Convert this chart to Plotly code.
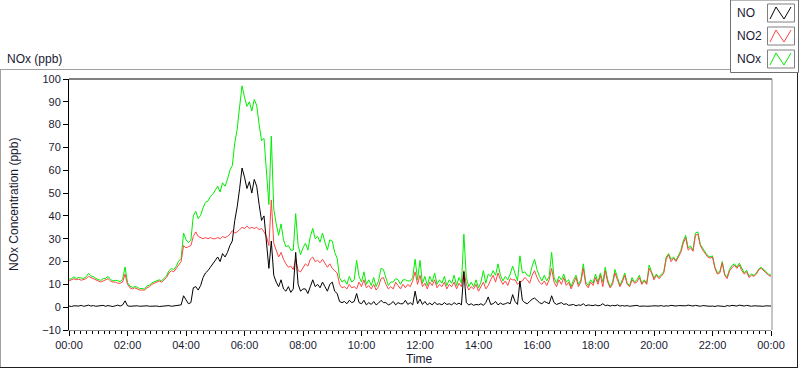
import plotly.graph_objects as go
import pandas as pd

# NO (ppb), 5-minute readings from 00:00 to 24:00
no_ppb = [
    0.5, 0.3, 0.6, 0.4, 0.5, 0.8, 0.4, 0.6, 0.9, 0.5, 0.7, 0.4,
    0.6, 0.5, 0.8, 0.4, 0.7, 0.5, 0.3, 0.6, 0.9, 0.5, 1.0, 2.8,
    0.6, 0.4, 0.5, 0.3, 0.6, 0.4, 0.5, 0.3, 0.6, 0.4, 0.5, 0.4,
    0.5, 0.3, 0.4, 0.6, 0.5, 0.7, 0.4, 0.6, 0.5, 0.8, 1.0, 5.0,
    3.0, 1.5, 2.0, 8.5, 9.0, 7.5, 9.5, 13, 15, 16, 17.5, 19,
    21, 22, 20, 23.5, 22, 24, 27, 29, 38, 44, 52, 61,
    57, 52, 55, 50, 56, 53, 45, 38, 40, 28, 17, 29,
    14, 11, 9, 12, 8, 7, 9, 6.5, 8, 24, 10, 7,
    8, 8, 6, 9, 12, 9, 10, 8.5, 11, 9, 7, 10,
    11, 7, 6, 2.5, 2, 2.5, 1.5, 3, 2, 2.5, 6, 2,
    1.5, 3, 1, 2, 1.2, 2.5, 1, 1.8, 3, 2, 2, 1,
    1.5, 2.5, 1, 2, 1.5, 1.5, 3, 1.2, 2, 1, 7, 1.5,
    3.5, 1.2, 2.5, 1, 1.8, 1, 2.2, 1.2, 1.5, 1, 2, 1.2,
    1.5, 1, 2, 1.2, 1.8, 1, 15.5, 2, 1, 1.5, 0.8, 1.2,
    1, 1.5, 0.8, 2, 4.5, 1.2, 1.5, 2.5, 1, 1.8, 1.2, 1.5,
    2, 1.5, 5.5, 2.5, 1.2, 11.5, 3, 2, 1.5, 2.5, 3.5, 4,
    3, 2, 1.5, 2.5, 2, 1.5, 5, 2, 1.2, 1.5, 2, 1.2,
    1.5, 0.8, 1, 1.2, 0.6, 1, 0.8, 1.5, 0.6, 1, 0.8, 0.7,
    1, 0.6, 0.8, 1.5, 0.7, 0.9, 0.5, 0.8, 0.6, 1, 0.5, 0.7,
    0.5, 0.7, 0.4, 0.6, 0.5, 0.8, 0.4, 0.6, 0.5, 0.4, 0.6, 0.5,
    0.6, 0.4, 0.5, 0.7, 0.4, 0.6, 0.5, 0.8, 0.6, 0.5, 0.7, 0.6,
    0.8, 0.6, 0.9, 0.7, 0.5, 0.8, 0.6, 0.4, 0.7, 0.5, 0.6, 0.4,
    0.5, 0.3, 0.6, 0.4, 0.5, 0.3, 0.7, 0.5, 0.8, 0.6, 0.5, 0.9,
    0.7, 0.5, 0.8, 0.6, 0.4, 0.6, 0.5, 0.3, 0.5, 0.4, 0.6, 0.4,
    0.5,
]

# NO2 (ppb)
no2_ppb = [
    11.5, 12, 12.5, 12, 12.3, 11.8, 12, 12.5, 13.5, 13, 12.5, 12,
    11.5, 11, 11.5, 12, 12.5, 11.5, 11, 11, 10.5, 10.5, 11, 14.5,
    10, 8.5, 8, 8.5, 8, 7.5, 7.5, 7.5, 8.5, 9, 10, 10.5,
    11, 11.5, 11, 12, 13, 15, 16, 15.5, 17, 19, 20, 27,
    26, 26.5, 27, 31, 33, 31, 30.5, 30, 30.5, 30, 30.5, 30,
    30, 30.5, 30, 31, 30.5, 31, 32, 33.5, 32.5, 33, 34, 35,
    34.5, 35.5, 34.5, 35, 34.5, 35, 34, 34.5, 33, 31, 27, 47,
    28, 25, 22, 24, 21, 19, 17.5, 18, 16.5, 21, 16, 15.5,
    17, 19, 18, 21, 22, 20, 20.5, 19.5, 21, 19, 17.5, 19,
    17, 16, 15, 10, 8.5, 9, 8, 10, 8.5, 9, 8, 11,
    9, 12, 8.5, 9.5, 8, 10, 7.5, 9, 12.5, 13, 10, 8,
    9, 8, 11, 9.5, 8, 10, 8.5, 10, 9, 11.5, 15.5, 10,
    14, 9, 10.5, 8, 11, 9.5, 12, 8.5, 10, 9, 11, 8,
    10, 9, 11, 8, 10.5, 9, 16, 10, 7.5, 9, 8, 10,
    7, 9, 11, 8, 9.5, 12, 14, 11, 15, 12, 10, 11.5,
    9.5, 12.5, 12, 12, 10, 11, 11.5, 13, 12, 10.5, 14, 16,
    13, 11, 10, 11.5, 9.5, 12, 17, 11, 9, 12, 10, 13,
    9.5, 11, 8, 10.5, 13, 9, 11, 17, 10, 8.5, 11, 9.5,
    13, 10, 14, 9, 16, 11, 8.5, 10, 15, 12, 9, 11,
    14, 10, 9, 12, 10.5, 11, 13, 10, 11.5, 10, 17, 15,
    12, 14, 12.5, 13.5, 15, 21, 23, 20, 21.5, 20, 22, 24,
    28, 30.5, 25, 26, 24.5, 31.5, 32, 27, 25, 23.5, 22, 21.5,
    22, 17, 14.5, 15, 19.5, 14, 12.5, 16, 17.5, 18.5, 17, 18.5,
    16, 14.5, 15.5, 13, 14, 13.5, 14.5, 16.5, 17, 16, 15, 14,
    13.5,
]

# NOx (ppb)
nox_ppb = [
    12.2, 12.5, 13.3, 12.6, 13, 12.8, 12.6, 13.3, 14.8, 13.7, 13.4, 12.6,
    12.3, 11.7, 12.5, 12.6, 13.5, 12.2, 11.5, 11.8, 11.6, 11.2, 12.2, 17.6,
    10.8, 9.2, 8.7, 9, 8.8, 8.1, 8.2, 7.9, 9.3, 9.6, 10.7, 11.1,
    11.7, 12, 11.6, 12.8, 13.7, 16, 17, 16.4, 18, 20.2, 21.3, 32.5,
    29.5, 28.3, 29.5, 40, 42, 38.8, 40.3, 43.5, 46, 46.5, 48.5, 49.5,
    51.5, 53, 50.5, 54.5, 53, 56, 60, 62, 72, 78, 88, 97,
    92, 88, 90, 86, 91, 88.5, 80, 73, 74, 60, 45, 75,
    43, 36.5, 31.5, 36.5, 29.5, 26.5, 27, 25, 25, 41, 27, 23,
    26, 28, 25, 31, 34.5, 30, 31, 28.5, 32.5, 28.5, 25, 29.5,
    29, 24, 21.5, 13, 11, 12, 10, 13.5, 11, 12, 20.5, 13.5,
    11, 15.5, 10, 12, 9.5, 13, 9, 11.5, 17, 16.5, 12.5, 9.5,
    11, 11, 12.5, 12, 10, 12, 12, 11.5, 11.5, 13, 21, 12,
    20.5, 10.5, 13.5, 9.5, 13.5, 11, 15, 10, 12, 10.5, 13.5, 9.5,
    12, 10.5, 14, 9.5, 13, 10.5, 32, 13, 9, 11, 9, 12,
    8.5, 11, 16, 10.5, 14.5, 13.5, 16, 14, 19, 14, 11.5, 13.5,
    12, 14.5, 18, 15, 11.5, 22.5, 15, 15.5, 14, 13.5, 18, 21,
    16.5, 13.5, 11.5, 14, 11.5, 13.5, 24, 13, 10.5, 13.5, 12, 14.5,
    11, 12, 9, 12, 14, 10, 12, 19, 11, 9.5, 12, 10.5,
    14.5, 11, 15, 11, 17.5, 12, 9, 11, 16.5, 13, 9.5, 12,
    15, 10.5, 9.5, 13, 11, 12, 14, 10.5, 12, 10.5, 18.5, 15.5,
    12.8, 14.5, 13, 14.5, 15.5, 22, 23.5, 21, 22, 20.5, 23, 24.8,
    29, 31.5, 26, 26.8, 25, 32.5, 33, 27.5, 25.8, 24, 22.6, 22,
    22.5, 17.5, 15.2, 15.5, 20, 14.5, 13.3, 16.6, 18.3, 19, 17.6, 19.3,
    16.8, 15, 16.2, 13.6, 14.5, 14, 15, 16.8, 17.5, 16.4, 15.6, 14.5,
    14,
]

series_names = ["NO", "NO2", "NOx"]
y_tick_values = list(range(-10, 101, 10))

times = pd.date_range("2000-01-01 00:00", periods=len(no_ppb), freq="5min")

# ---- styling / geometry ----
W, H = 800, 369
L, R, T, B = 69, 29, 79, 39
PW, PH = W - L - R, H - T - B
FONT = "Liberation Sans"
TXT = "#1a1a33"
colors = {"NO": "#000000", "NO2": "#ff4444", "NOx": "#00ee00"}
values = {"NO": no_ppb, "NO2": no2_ppb, "NOx": nox_ppb}


def px(x):
    return (x - L) / PW


def py(y):
    return (H - B - y) / PH


fig = go.Figure()
for name in ["NOx", "NO2", "NO"]:
    fig.add_trace(go.Scatter(
        x=times, y=values[name], mode="lines", name=name,
        line=dict(color=colors[name], width=1), showlegend=False,
        hoverinfo="skip",
    ))

shapes = []


def line(x0, y0, x1, y1, color, width=1):
    shapes.append(dict(type="line", xref="paper", yref="paper",
                       x0=px(x0), y0=py(y0), x1=px(x1), y1=py(y1),
                       line=dict(color=color, width=width)))


# plot frame: top black, right gray
line(L, T, W - R + 1, T, "#000000")
line(W - R + 1, T, W - R + 1, H - B, "#8c8c8c")
# outer panel frame
line(0, 69.5, 730, 69.5, "#a0a0a0")
line(0.5, 69.5, 0.5, 368, "#a0a0a0")
line(0, 367.5, 798, 367.5, "#202020")
line(797.5, 72, 797.5, 368, "#202020")
# legend box
shapes.append(dict(type="rect", xref="paper", yref="paper",
                   x0=px(730.5), x1=px(798.5), y0=py(72.5), y1=py(0),
                   line=dict(color="#707070", width=1), fillcolor="white"))

annotations = []
legend_rows = [13, 36, 59]
for name, yc in zip(series_names, legend_rows):
    annotations.append(dict(text=name, xref="paper", yref="paper",
                            x=px(735), y=py(yc), xanchor="left", yanchor="middle",
                            showarrow=False, font=dict(family=FONT, size=12, color=TXT)))
    shapes.append(dict(type="rect", xref="paper", yref="paper",
                       x0=px(767.5), x1=px(794.5), y0=py(yc + 9), y1=py(yc - 9),
                       line=dict(color="#808080", width=1), fillcolor="white"))
    zx = [770, 776, 784, 791]
    zy = [yc + 6, yc - 6, yc + 6, yc - 6]
    for i in range(3):
        line(zx[i], zy[i], zx[i + 1], zy[i + 1], colors[name])

annotations += [
    dict(text="NOx (ppb)", xref="paper", yref="paper", x=px(5), y=py(59),
         xanchor="left", yanchor="middle", showarrow=False,
         font=dict(family=FONT, size=12, color=TXT)),
    dict(text="NOx Concentration (ppb)", xref="paper", yref="paper",
         x=px(14), y=py(205), xanchor="center", yanchor="middle", textangle=-90,
         showarrow=False, font=dict(family=FONT, size=12, color=TXT)),
    dict(text="Time", xref="paper", yref="paper", x=px(419), y=py(359),
         xanchor="center", yanchor="middle", showarrow=False,
         font=dict(family=FONT, size=12, color=TXT)),
]

fig.update_layout(
    width=W, height=H,
    margin=dict(l=L, r=R, t=T, b=B, pad=0),
    paper_bgcolor="white", plot_bgcolor="white",
    shapes=shapes, annotations=annotations,
    showlegend=False,
    xaxis=dict(
        type="date", range=[times[0], times[-1]],
        tick0="2000-01-01 00:00", dtick=7200000, tickformat="%H:%M",
        ticks="outside", ticklen=5, tickcolor="#000000", tickwidth=1,
        showline=True, linecolor="#8c8c8c", linewidth=1,
        showgrid=False, zeroline=False,
        tickfont=dict(family=FONT, size=11, color=TXT),
        minor=dict(dtick=720000, ticks="outside", ticklen=3,
                   tickcolor="#000000", showgrid=False),
    ),
    yaxis=dict(
        range=[-10, 100], tickvals=y_tick_values,
        ticks="outside", ticklen=5, tickcolor="#000000", tickwidth=1,
        showline=True, linecolor="#000000", linewidth=1,
        showgrid=False, zeroline=False,
        tickfont=dict(family=FONT, size=11, color=TXT),
    ),
)

fig.write_html(
    "out.html",
    config={"displayModeBar": False, "staticPlot": True},
    post_script="document.body.style.margin='0';document.body.style.overflow='hidden';",
)
